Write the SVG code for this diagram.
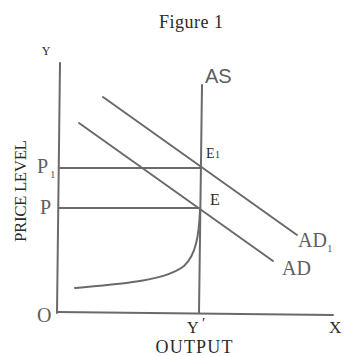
<svg xmlns="http://www.w3.org/2000/svg" width="346" height="356" viewBox="0 0 346 356">
<style>
.ln{stroke:#6a6a6a;stroke-width:2;fill:none;stroke-linecap:round}
.t{font-family:"Liberation Serif","Times New Roman",serif;fill:#2a2a2a}
.g{fill:#5e5e5e}
.s{font-family:"Liberation Sans",Arial,sans-serif}
</style>
<rect width="346" height="356" fill="#ffffff"/>
<text class="t" x="191" y="28" font-size="18" text-anchor="middle" textLength="64">Figure 1</text>
<g id="axes">
<line class="ln" x1="60" y1="63" x2="57" y2="313"/>
<line class="ln" x1="57" y1="312" x2="333" y2="315"/>
<text class="t" x="46" y="55" font-size="12" text-anchor="middle">Y</text>
<text class="t g" x="37" y="322" font-size="20">O</text>
<text class="t" x="329" y="333" font-size="17">X</text>
<text class="t" x="187" y="333" font-size="16">Y</text>
<text class="t" x="202" y="328" font-size="15">′</text>
<text class="t" x="194" y="353" font-size="18" text-anchor="middle" textLength="77">OUTPUT</text>
<text class="t" font-size="17" text-anchor="middle" textLength="102" transform="translate(26,191) rotate(-90)">PRICE LEVEL</text>
</g>
<g id="connectors">
<line class="ln" x1="60" y1="168" x2="201" y2="168"/>
<line class="ln" x1="59" y1="208" x2="200" y2="208"/>
</g>
<g id="AS">
<line class="ln" x1="202" y1="85" x2="199" y2="313"/>
<path class="ln" d="M75,288 C120,284 165,281 184,266 C196,255 199,235 200,210"/>
<text class="t g s" x="205" y="83" font-size="20">AS</text>
</g>
<g id="AD1">
<line class="ln" x1="103" y1="97" x2="297" y2="235"/>
<text class="t g" x="298" y="247" font-size="20">AD</text>
<text class="t g" x="327" y="252" font-size="11">1</text>
</g>
<g id="AD">
<line class="ln" x1="79" y1="123" x2="273" y2="261"/>
<text class="t g" x="282" y="275" font-size="20">AD</text>
</g>
<g id="P1">
<text class="t g" x="37" y="173" font-size="20">P</text>
<text class="t g" x="50" y="178" font-size="11">1</text>
</g>
<g id="P">
<text class="t g" x="40" y="214" font-size="20">P</text>
</g>
<g id="E1">
<text class="t" x="206" y="158" font-size="14">E</text>
<text class="t" x="215" y="158" font-size="10">1</text>
</g>
<g id="E">
<text class="t" x="210" y="205" font-size="16">E</text>
</g>
</svg>
